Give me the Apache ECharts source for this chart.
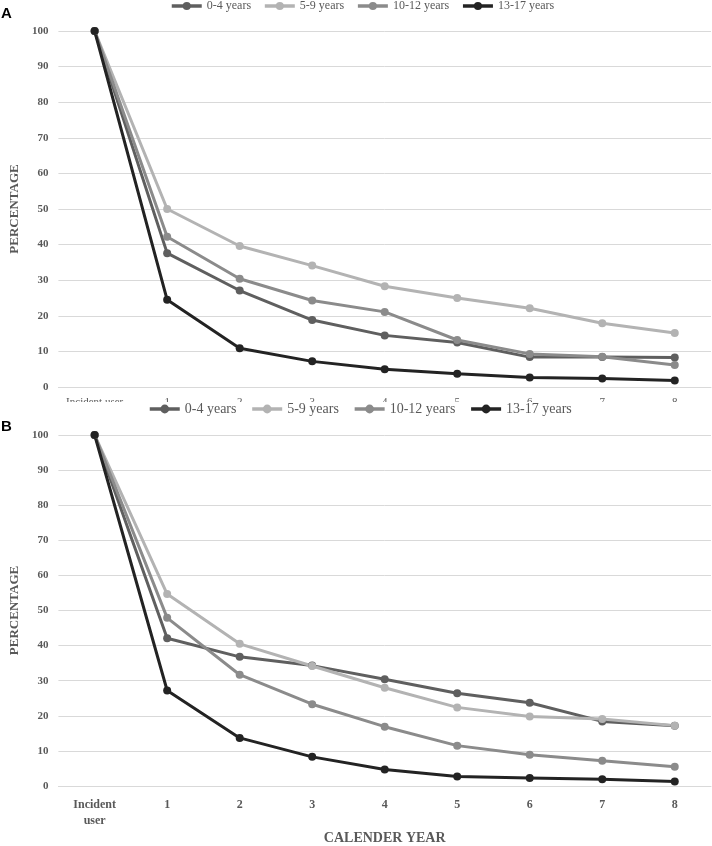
<!DOCTYPE html>
<html>
<head>
<meta charset="utf-8">
<script src="https://cdn.jsdelivr.net/npm/echarts@6/dist/echarts.min.js"></script>
<style>html,body{margin:0;padding:0;background:#fff}#c{width:712px;height:846px}</style>
</head>
<body>
<div id="c"></div>
<script>
var categoriesA = ['Incident user', '1', '2', '3', '4', '5', '6', '7', '8'];
var categoriesB = ['Incident\nuser', '1', '2', '3', '4', '5', '6', '7', '8'];
var seriesNames = ['0-4 years', '5-9 years', '10-12 years', '13-17 years'];

var a_0_4   = [100, 37.6, 27.1, 18.8, 14.5, 12.5, 8.4, 8.4, 8.3];
var a_5_9   = [100, 50.0, 39.6, 34.1, 28.3, 25.0, 22.1, 17.9, 15.2];
var a_10_12 = [100, 42.2, 30.4, 24.3, 21.1, 13.2, 9.3, 8.5, 6.2];
var a_13_17 = [100, 24.5, 10.9, 7.2, 5.0, 3.7, 2.7, 2.4, 1.8];

var b_0_4   = [100, 42.1, 36.8, 34.3, 30.4, 26.4, 23.7, 18.4, 17.2];
var b_5_9   = [100, 54.7, 40.5, 34.2, 28.0, 22.4, 19.8, 19.1, 17.2];
var b_10_12 = [100, 47.9, 31.7, 23.3, 16.9, 11.5, 8.9, 7.2, 5.5];
var b_13_17 = [100, 27.2, 13.7, 8.3, 4.7, 2.7, 2.3, 1.9, 1.3];

var yTicks = [0, 100, 10];

var colors = ['#5f5f5f', '#b3b3b3', '#8b8b8b', '#232323'];
var serif = '"Liberation Serif", "DejaVu Serif", serif';
var grey = '#595959';

var chart = echarts.init(document.getElementById('c'), null, {renderer: 'canvas'});

function mkSeries(name, data, idx, color) {
  return {
    name: name, type: 'line', data: data,
    xAxisIndex: idx, yAxisIndex: idx,
    symbol: 'circle', symbolSize: 8,
    lineStyle: {width: 3, color: color},
    itemStyle: {color: color},
    emphasis: {disabled: true},
    animation: false
  };
}

var dataA = [a_0_4, a_5_9, a_10_12, a_13_17];
var dataB = [b_0_4, b_5_9, b_10_12, b_13_17];
var series = [];
for (var i = 0; i < 4; i++) series.push(mkSeries(seriesNames[i], dataA[i], 0, colors[i]));
for (var j = 0; j < 4; j++) series.push(mkSeries(seriesNames[j], dataB[j], 1, colors[j]));

function yAx(idx) {
  return {
    type: 'value', gridIndex: idx, min: yTicks[0], max: yTicks[1], interval: yTicks[2],
    name: 'PERCENTAGE', nameLocation: 'middle', nameRotate: 90, nameGap: 37,
    nameTextStyle: {fontFamily: serif, fontWeight: 'bold', fontSize: 13, color: grey},
    axisLine: {show: false}, axisTick: {show: false},
    axisLabel: {fontFamily: serif, fontWeight: 'bold', fontSize: 11, color: grey, margin: 10},
    splitLine: {lineStyle: {color: '#d9d9d9', width: 1}}
  };
}

var option = {
  backgroundColor: '#ffffff',
  animation: false,
  color: colors,
  title: [
    {text: 'A', left: 1, top: 6, padding: 0, textStyle: {fontFamily: '"Liberation Sans", Arial, sans-serif', fontWeight: 'bold', fontSize: 15, color: '#000'}},
    {text: 'B', left: 1, top: 419, padding: 0, textStyle: {fontFamily: '"Liberation Sans", Arial, sans-serif', fontWeight: 'bold', fontSize: 15, color: '#000'}}
  ],
  legend: [
    {data: seriesNames, left: 170, top: 0, padding: 0, itemGap: 12, itemWidth: 30, itemHeight: 10, z: 6,
     selectedMode: false, lineStyle: {width: 3.5},
     textStyle: {fontFamily: serif, fontSize: 12, color: grey}},
    {data: seriesNames, left: 148, top: 402, padding: 0, itemGap: 14, itemWidth: 30, itemHeight: 11, z: 6,
     selectedMode: false, lineStyle: {width: 3.5},
     textStyle: {fontFamily: serif, fontSize: 14, color: grey}}
  ],
  grid: [
    {left: 50, right: 1, top: 31, height: 356},
    {left: 50, right: 1, top: 435, height: 353}
  ],
  xAxis: [
    {type: 'category', gridIndex: 0, data: categoriesA, boundaryGap: true,
     axisLine: {lineStyle: {color: '#d9d9d9'}}, axisTick: {show: false},
     axisLabel: {fontFamily: serif, fontSize: 11, color: grey, margin: 10, interval: 0}},
    {type: 'category', gridIndex: 1, data: categoriesB, boundaryGap: true,
     name: 'CALENDER YEAR', nameLocation: 'middle', nameGap: 45,
     nameTextStyle: {fontFamily: serif, fontWeight: 'bold', fontSize: 14, color: grey},
     axisLine: {lineStyle: {color: '#d9d9d9'}}, axisTick: {show: false},
     axisLabel: {fontFamily: serif, fontWeight: 'bold', fontSize: 12, color: grey, margin: 11, interval: 0, lineHeight: 16}}
  ],
  yAxis: [yAx(0), yAx(1)],
  graphic: [
    {type: 'rect', left: 0, top: 402, z: 5, silent: true,
     shape: {width: 712, height: 14}, style: {fill: '#ffffff'}}
  ],
  series: series
};
chart.setOption(option);
</script>
</body>
</html>
